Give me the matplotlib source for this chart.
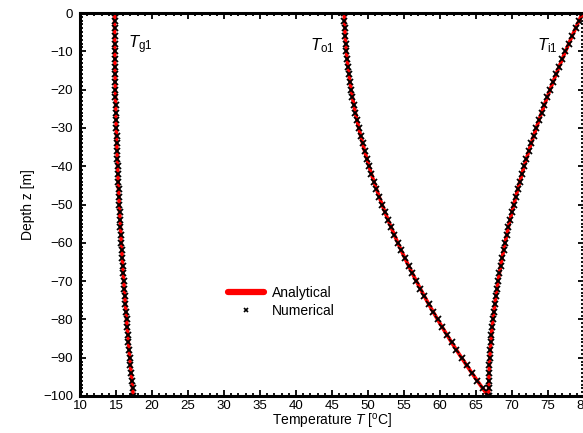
import numpy as np
import matplotlib
matplotlib.use("Agg")
import matplotlib.pyplot as plt
from matplotlib.legend_handler import HandlerLine2D
from matplotlib.ticker import MultipleLocator

plt.rcParams['font.family'] = ['Liberation Sans', 'DejaVu Sans']
plt.rcParams['mathtext.fontset'] = 'custom'
plt.rcParams['mathtext.rm'] = 'Liberation Sans'
plt.rcParams['mathtext.it'] = 'Liberation Sans:italic'

# depth grid [m], 0 to -100 every 2 m
depth = np.arange(0, -101, -2)

# temperatures [°C]
T_g1 = [14.80, 14.80, 14.80, 14.81, 14.82, 14.83, 14.84, 14.85, 14.87, 14.88,
        14.90, 14.93, 14.95, 14.98, 15.00, 15.03, 15.07, 15.10, 15.14, 15.18,
        15.22, 15.26, 15.30, 15.35, 15.40, 15.45, 15.50, 15.56, 15.62, 15.68,
        15.74, 15.80, 15.87, 15.93, 16.00, 16.07, 16.15, 16.22, 16.30, 16.38,
        16.46, 16.55, 16.64, 16.72, 16.81, 16.91, 17.00, 17.10, 17.20, 17.30,
        17.40]
T_o1 = [46.70, 46.73, 46.77, 46.83, 46.90, 46.99, 47.09, 47.21, 47.35, 47.50,
        47.66, 47.84, 48.03, 48.24, 48.47, 48.71, 48.97, 49.24, 49.52, 49.82,
        50.14, 50.47, 50.82, 51.18, 51.56, 51.95, 52.36, 52.78, 53.22, 53.67,
        54.14, 54.62, 55.12, 55.64, 56.17, 56.71, 57.27, 57.84, 58.43, 59.04,
        59.66, 60.30, 60.95, 61.61, 62.29, 62.99, 63.70, 64.43, 65.17, 65.93,
        66.70]
T_i1 = [79.80, 79.31, 78.83, 78.35, 77.89, 77.43, 76.99, 76.55, 76.12, 75.70,
        75.29, 74.89, 74.50, 74.12, 73.74, 73.38, 73.02, 72.68, 72.34, 72.01,
        71.69, 71.39, 71.09, 70.80, 70.52, 70.25, 69.99, 69.73, 69.49, 69.26,
        69.04, 68.83, 68.62, 68.43, 68.25, 68.07, 67.91, 67.76, 67.62, 67.48,
        67.36, 67.25, 67.15, 67.06, 66.98, 66.91, 66.86, 66.81, 66.78, 66.76,
        66.75]

curves = [T_g1, T_o1, T_i1]
labels = [r'$T_{\rm g1}$', r'$T_{\rm o1}$', r'$T_{\rm i1}$']
label_x = [16.6, 42.0, 73.5]


class RightMarkerHandler(HandlerLine2D):
    # put the single legend marker at the right end of the handle
    def get_xdata(self, legend, xdescent, ydescent, width, height, fontsize):
        xdata = np.array([-xdescent, -xdescent + width])
        return xdata, np.array([-xdescent + width * 0.93])


fig = plt.figure(figsize=(5.83, 4.33), dpi=100)
ax = fig.add_axes([80/583, 1-396/433, 504/583, 383/433])

for i, T in enumerate(curves):
    ax.plot(T, depth, color='red', lw=2.6, zorder=2)
    ax.plot(T, depth, ls='none', marker='x', color='black',
            ms=4.3, mew=1.3, zorder=3)
    ax.text(label_x[i], -8.4, labels[i], fontsize=12, va='center', ha='left')

ax.set_xlim(10, 80)
ax.set_ylim(-100, 0)
ax.xaxis.set_major_locator(MultipleLocator(5))
ax.xaxis.set_minor_locator(MultipleLocator(1))
ax.yaxis.set_major_locator(MultipleLocator(10))
ax.yaxis.set_minor_locator(MultipleLocator(1))
ax.tick_params(which='both', direction='in', top=True, right=True,
               labelsize=9.5, width=1.3)
ax.tick_params(which='major', length=4.5)
ax.tick_params(which='minor', length=2.3)
ax.tick_params(axis='x', pad=3)
ax.tick_params(axis='y', pad=5)
for s in ax.spines.values():
    s.set_linewidth(2.2)

ax.set_xlabel(r'Temperature $T$ [$^{\rm o}$C]', fontsize=10, labelpad=0)
ax.set_ylabel('Depth z [m]', fontsize=10, labelpad=6)

leg_ana = plt.Line2D([], [], color='red', lw=4.5, solid_capstyle='round')
leg_num = plt.Line2D([], [], ls='none', marker='x', color='black', ms=3.5, mew=1.2)
ax.legend([leg_ana, leg_num], ['Analytical', 'Numerical'],
          handler_map={leg_num: RightMarkerHandler(numpoints=1)},
          loc='upper left', bbox_to_anchor=(225/583, 1-283/433),
          bbox_transform=fig.transFigure, frameon=False, fontsize=10,
          handlelength=2.6, handletextpad=0.6, labelspacing=0.3,
          borderaxespad=0, borderpad=0.2)

fig.savefig('out.png', dpi=100)
